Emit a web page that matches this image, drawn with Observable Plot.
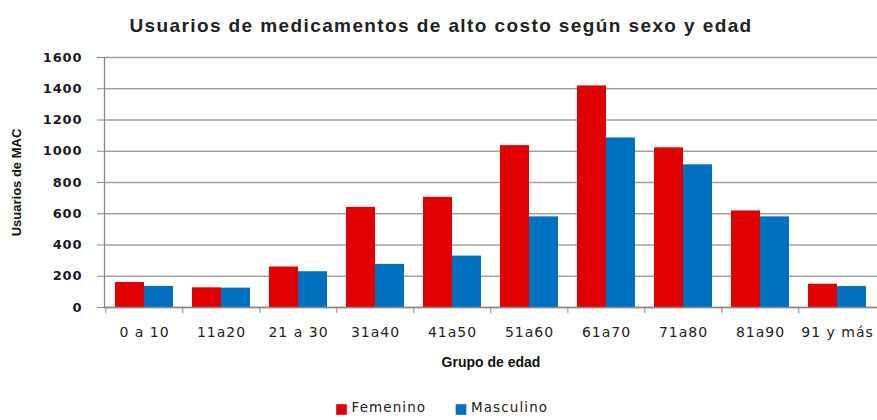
<!DOCTYPE html>
<html><head><meta charset="utf-8">
<script src="https://cdn.jsdelivr.net/npm/d3@7"></script>
<script src="https://cdn.jsdelivr.net/npm/@observablehq/plot@0.6"></script>
<style>
body{margin:0;background:#fff;}
.xt text{letter-spacing:1.0px}
.yt text{letter-spacing:0.9px}
.lg text{letter-spacing:1.1px}
.ttl text{letter-spacing:1.4px}
</style></head><body><div id="chart"></div><script>
const groups = ["0 a 10","11a20","21 a 30","31a40","41a50","51a60","61a70","71a80","81a90","91 y más"];
const femenino = [160, 126, 259, 641, 705, 1036, 1418, 1022, 618, 149];
const masculino = [135, 124, 229, 276, 329, 580, 1085, 913, 580, 134];
const series = ["Femenino","Masculino"];
const colors = ["#e00000","#0070c0"];
const yTicks = [0,200,400,600,800,1000,1200,1400,1600];
const title = "Usuarios de medicamentos de alto costo según sexo y edad";
const xLabel = "Grupo de edad";
const yLabel = "Usuarios de MAC";

const data = groups.flatMap((g,i)=>[
  {group:g, sex:series[0], value:femenino[i]},
  {group:g, sex:series[1], value:masculino[i]}
]);

const W=877, H=420, mL=104, mR=0, mT=57, mB=113;
const step=(W-mL-mR)/groups.length;
const half=step*0.75/2;
// legend layout offsets (pixels from plot-centre) for swatch and label of each series
const legendDx = [-149.5, -30];

const legendMarks = series.flatMap((s,i)=>[
  Plot.dot([s], {frameAnchor:"bottom", dx:legendDx[i], dy:102, fill:d=>d, symbol:"square", r:6.0}),
  Plot.text([s], {text:d=>d, frameAnchor:"bottom", dx:legendDx[i]+10, dy:104, textAnchor:"start", fontSize:13.5, fill:"#222", className:"lg"})
]);

const chart = Plot.plot({
  width:W, height:H, marginLeft:mL, marginRight:mR, marginTop:mT, marginBottom:mB,
  style:{background:"#fff", fontFamily:"DejaVu Sans", overflow:"visible"},
  x:{domain:groups, paddingInner:0.25, paddingOuter:0.125, axis:null},
  y:{domain:[0,1600], axis:null},
  color:{domain:series, range:colors},
  marks:[
    Plot.gridY(yTicks,{stroke:"#a0a0a0", strokeOpacity:1, strokeWidth:1.3}),
    Plot.barY(data.filter(d=>d.sex===series[0]), {x:"group", y:"value", fill:"sex", insetRight:half}),
    Plot.barY(data.filter(d=>d.sex===series[1]), {x:"group", y:"value", fill:"sex", insetLeft:half}),
    Plot.frame({anchor:"left", stroke:"#8a8a8a", strokeWidth:1.3}),
    Plot.frame({anchor:"bottom", stroke:"#8a8a8a", strokeWidth:1.3}),
    Plot.axisY(yTicks, {label:null, tickSize:7, tickPadding:15, stroke:"#8a8a8a", fontSize:13, fontWeight:"bold", fill:"#1a1a2a", tickFormat:d=>String(d), className:"yt"}),
    Plot.axisX(groups, {label:null, tickSize:6, text:null, dx:-step/2, stroke:"#8a8a8a"}),
    Plot.axisX(groups, {label:null, tickSize:0, tickPadding:20, fontSize:14, fill:"#222", className:"xt"}),
    Plot.text([title], {text:d=>d, frameAnchor:"top", dx:-50, dy:-39, fontSize:19, fontWeight:"bold", fontFamily:"Liberation Sans", fill:"#222", className:"ttl"}),
    Plot.text([xLabel], {text:d=>d, frameAnchor:"bottom", dy:59, fontSize:14, fontWeight:"bold", fontFamily:"Liberation Sans", fill:"#111"}),
    Plot.text([yLabel], {text:d=>d, frameAnchor:"left", textAnchor:"middle", dx:-88, rotate:-90, fontSize:13, fontWeight:"bold", fontFamily:"Liberation Sans", fill:"#111"}),
    ...legendMarks
  ]
});
document.getElementById("chart").appendChild(chart);
</script></body></html>
